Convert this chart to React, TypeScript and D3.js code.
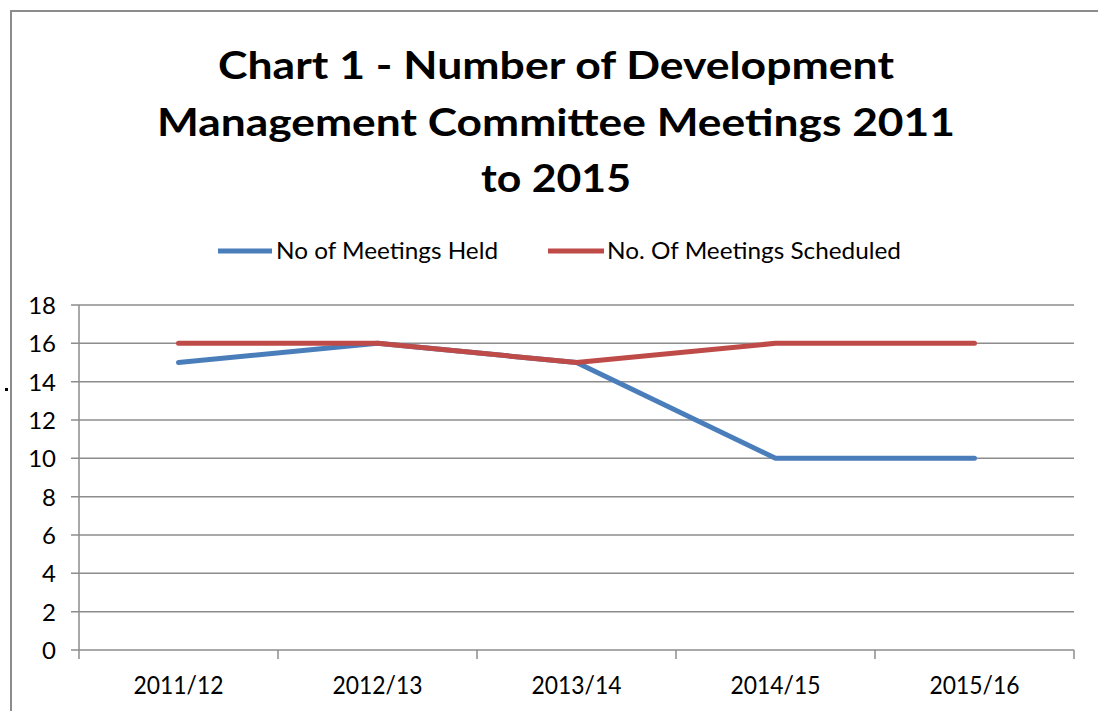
import React from "react";
import * as d3 from "d3";

const categories = ["2011/12", "2012/13", "2013/14", "2014/15", "2015/16"];
const meetingsHeld = [15, 16, 15, 10, 10];
const meetingsScheduled = [16, 16, 15, 16, 16];
const yTicks = [0, 2, 4, 6, 8, 10, 12, 14, 16, 18];
const titleLines = [
  "Chart 1 - Number of Development",
  "Management Committee Meetings 2011",
  "to 2015",
];
const seriesNames = ["No of Meetings Held", "No. Of Meetings Scheduled"];

const W = 1098;
const H = 711;
const left = 79;
const right = 1074;
const top = 305;
const bottom = 650;
const FONT = "Lato, 'Open Sans', sans-serif";
const BLUE = "#4a7ebb";
const RED = "#be4b48";
const GRID = "#8c8c8c";

export default function App() {
  const x = d3.scaleBand<string>().domain(categories).range([left, right]).padding(0);
  const y = d3.scaleLinear().domain([0, 18]).range([bottom, top]);
  const cx = (c: string) => (x(c) as number) + x.bandwidth() / 2;

  const line = d3
    .line<number>()
    .x((_, i) => cx(categories[i]))
    .y((d) => y(d));

  const boundaries = categories.map((c) => x(c) as number).concat([right]);
  const titleWidths = [676, 798, 150];
  const titleBaselines = [79, 136, 192];

  return (
    <svg
      width={W}
      height={H}
      style={{ position: "absolute", left: 0, top: 0, background: "#fff" }}
    >
      <rect x={0} y={0} width={W} height={H} fill="#fff" />
      {/* outer chart frame */}
      <rect x={11} y={11} width={W + 20} height={H + 20} fill="none" stroke={GRID} strokeWidth={2} />
      <rect x={5} y={388} width={3} height={3} fill="#000" />

      {/* title */}
      {titleLines.map((t, i) => (
        <text
          key={t}
          x={556}
          y={titleBaselines[i]}
          textAnchor="middle"
          fontFamily={FONT}
          fontWeight="bold"
          fontSize={38}
          textLength={titleWidths[i]}
          lengthAdjust="spacingAndGlyphs"
          fill="#000"
        >
          {t}
        </text>
      ))}

      {/* legend */}
      <line x1={218} x2={272} y1={251} y2={251} stroke={BLUE} strokeWidth={5} />
      <text x={276} y={259} fontFamily={FONT} fontSize={24} textLength={222} lengthAdjust="spacingAndGlyphs" fill="#000">
        {seriesNames[0]}
      </text>
      <line x1={548} x2={604} y1={251} y2={251} stroke={RED} strokeWidth={5} />
      <text x={607} y={259} fontFamily={FONT} fontSize={24} textLength={294} lengthAdjust="spacingAndGlyphs" fill="#000">
        {seriesNames[1]}
      </text>

      {/* gridlines and y ticks */}
      {yTicks.map((t) => (
        <g key={t}>
          <line x1={71} x2={right} y1={y(t)} y2={y(t)} stroke={GRID} strokeWidth={1.5} />
          <text
            x={56}
            y={y(t) + 9}
            textAnchor="end"
            fontFamily={FONT}
            fontSize={24}
            fill="#000"
          >
            {t}
          </text>
        </g>
      ))}
      {/* y axis */}
      <line x1={left} x2={left} y1={top} y2={bottom} stroke={GRID} strokeWidth={1.5} />
      {/* x ticks */}
      {boundaries.map((b, i) => (
        <line key={i} x1={b} x2={b} y1={bottom} y2={659} stroke={GRID} strokeWidth={1.5} />
      ))}
      {categories.map((c) => (
        <text
          key={c}
          x={cx(c)}
          y={694}
          textAnchor="middle"
          fontFamily={FONT}
          fontSize={25}
          textLength={90}
          lengthAdjust="spacingAndGlyphs"
          fill="#000"
        >
          {c}
        </text>
      ))}

      {/* series */}
      <path d={line(meetingsHeld) || ""} fill="none" stroke={BLUE} strokeWidth={5} strokeLinecap="round" strokeLinejoin="round" />
      <path d={line(meetingsScheduled) || ""} fill="none" stroke={RED} strokeWidth={5} strokeLinecap="round" strokeLinejoin="round" />
    </svg>
  );
}
